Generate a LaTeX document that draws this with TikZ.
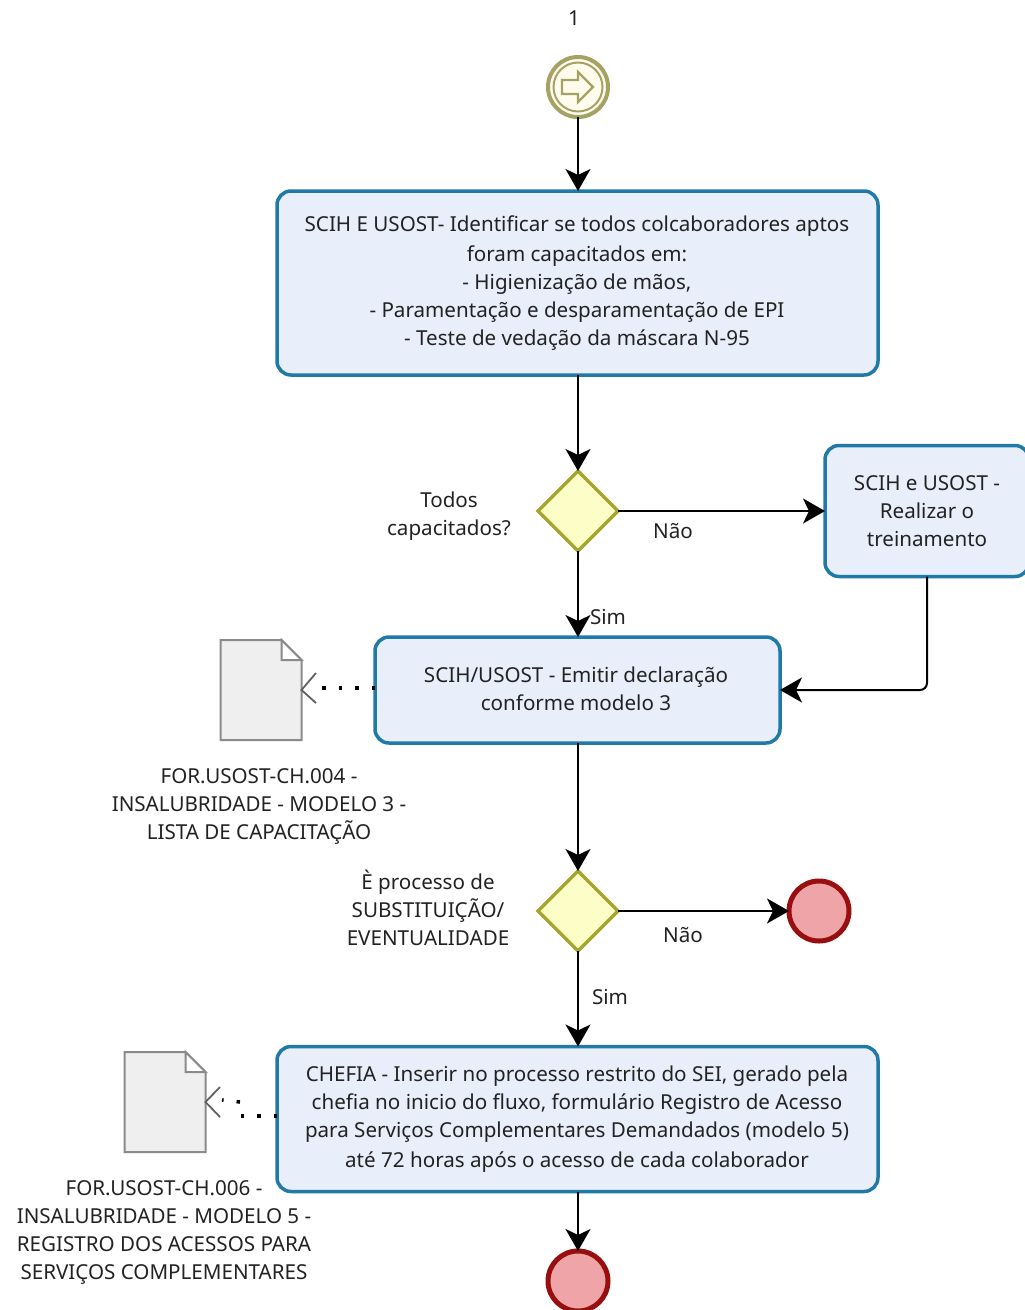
\documentclass[tikz,border=0pt]{standalone}
\usepackage{fontspec}
\setmainfont{Noto Sans}
\usetikzlibrary{arrows.meta,shapes.geometric,calc}
\definecolor{taskfill}{HTML}{E9EEFB}
\definecolor{taskline}{HTML}{1F7AA8}
\definecolor{gwfill}{HTML}{FDFDC8}
\definecolor{gwline}{HTML}{A5A52B}
\definecolor{endfill}{HTML}{EFA5A8}
\definecolor{endline}{HTML}{990F0F}
\definecolor{startline}{HTML}{A5A264}
\definecolor{startfill}{HTML}{FFFCEE}
\definecolor{docfill}{HTML}{EFEFEF}
\definecolor{docline}{HTML}{8A8A8A}
\definecolor{txt}{HTML}{222222}
\tikzset{
  x=1pt,y=-1pt,
  every node/.style={text=txt,font=\fontsize{20.6}{28}\selectfont,inner sep=0pt,outer sep=0pt},
  taskbox/.style={draw=taskline,fill=taskfill,line width=3.5pt,rounded corners=14pt,align=center,anchor=center},
  gateway/.style={diamond,aspect=1,draw=gwline,fill=gwfill,line width=3.5pt,minimum width=80pt,minimum height=80pt},
  endev/.style={circle,draw=endline,fill=endfill,line width=5pt,minimum size=60pt},
  lbl/.style={align=center,anchor=center},
  flow/.style={draw=black,line width=2pt,-{Stealth[length=22pt,width=25pt,inset=6pt]}},
  assoc/.style={draw=black,line width=3.5pt,dash pattern=on 3.5pt off 13pt},
  docshape/.style={draw=docline,fill=docfill,line width=2pt,line join=miter},
  openhead/.style={draw=docline!70!black,line width=1.8pt}
}
\begin{document}
\begin{tikzpicture}
\useasboundingbox (0,0) rectangle (1025,1310);

\node[lbl] (one) at (574,18) {1};

% start event
\node[circle,draw=startline,fill=startfill,line width=4pt,minimum size=60pt] (start) at (578,87) {};
\node[circle,draw=startline,line width=2pt,minimum size=49pt] (startinner) at (578,87) {};
\draw[draw=startline,line width=2.4pt,fill=startfill,line join=miter]
  (562,80)--(578,80)--(578,72)--(593,87)--(578,102)--(578,94)--(562,94)--cycle;

% tasks
\node[taskbox,minimum width=601pt,minimum height=184pt] (t1) at (577.5,283) {};
\node[lbl] (t1a) at (577,226) {SCIH E USOST- Identificar se todos colcaboradores aptos};
\node[lbl] (t1b) at (577,256) {foram capacitados em:};
\node[lbl] (t1c) at (577,284) {- Higienização de mãos,};
\node[lbl] (t1d) at (577,312) {- Paramentação e desparamentação de EPI};
\node[lbl] (t1e) at (577,340) {- Teste de vedação da máscara N-95};

\node[gateway] (g1) at (578,511) {};
\node[lbl] (g1l) at (449,516) {Todos\\capacitados?};

\node[taskbox,minimum width=204pt,minimum height=131pt] (t2) at (927,511) {};
\node[lbl] (t2l) at (927,511) {SCIH e USOST -\\Realizar o\\treinamento};

\node[taskbox,minimum width=405pt,minimum height=106pt] (t3) at (577.5,690) {};
\node[lbl] (t3l) at (576,689) {SCIH/USOST - Emitir declaração\\conforme modelo 3};

\node[gateway] (g2) at (578,911) {};
\node[lbl] (g2l) at (428,908) {È processo de\\SUBSTITUIÇÃO/\\EVENTUALIDADE};

\node[endev] (e1) at (819,911) {};

\node[taskbox,minimum width=601pt,minimum height=145pt] (t4) at (577.5,1119) {};
\node[lbl] (t4a) at (577,1076) {CHEFIA - Inserir no processo restrito do SEI, gerado pela};
\node[lbl] (t4b) at (577,1104) {chefia no inicio do fluxo, formulário Registro de Acesso};
\node[lbl] (t4c) at (577,1132) {para Serviços Complementares Demandados (modelo 5)};
\node[lbl] (t4d) at (577,1162) {até 72 horas após o acesso de cada colaborador};

\node[endev] (e2) at (578,1281) {};

% documents
\node[minimum width=81pt,minimum height=100pt] (d1) at (261,690) {};
\draw[docshape] (d1.north west) -- ++(61,0) -- ++(20,20) |- (d1.south west) -- cycle;
\draw[docshape,fill=white] ($(d1.north west)+(61,0)$) -- ++(0,20) -- ++(20,0) -- cycle;
\node[lbl] (d1l) at (259,806) {FOR.USOST-CH.004 -\\INSALUBRIDADE - MODELO 3 -\\LISTA DE CAPACITAÇÃO};

\node[minimum width=81pt,minimum height=100pt] (d2) at (165,1102) {};
\draw[docshape] (d2.north west) -- ++(61,0) -- ++(20,20) |- (d2.south west) -- cycle;
\draw[docshape,fill=white] ($(d2.north west)+(61,0)$) -- ++(0,20) -- ++(20,0) -- cycle;
\node[lbl] (d2l) at (164,1232) {FOR.USOST-CH.006 -\\INSALUBRIDADE - MODELO 5 -\\REGISTRO DOS ACESSOS PARA\\SERVIÇOS COMPLEMENTARES};

% flows
\coordinate (sx) at (578,0);
\draw[flow] (start) -- (start |- t1.north);
\draw[flow] (start |- t1.south) -- (g1);
\draw[flow] (g1) -- (t2);
\draw[flow] (g1) -- (g1 |- t3.north);
\coordinate (bend) at (927,690);
\draw[flow,rounded corners=7pt] (t2) -- (bend) -- (t3.east);
\draw[flow] (g1 |- t3.south) -- (g2);
\draw[flow] (g2) -- (e1);
\draw[flow] (g2) -- (g2 |- t4.north);
\draw[flow] (g2 |- t4.south) -- (e2);

\node[lbl] (nao1) at (673,531) {Não};
\node[lbl] (sim1) at (608,617) {Sim};
\node[lbl] (nao2) at (683,935) {Não};
\node[lbl] (sim2) at (610,997) {Sim};

% associations
\coordinate (a1end) at (322,688);
\draw[assoc] (t3.west |- a1end) -- (a1end);
\draw[openhead] (316,673) -- (d1.east) -- (316,703);

\coordinate (a2m1) at (241,1116);
\coordinate (a2m2) at (240,1102);
\coordinate (a2end) at (222,1100);
\draw[assoc] (t4.west |- a2m1) -- (a2m1);
\draw[assoc] (a2m2) -- (a2end);
\draw[openhead] (220,1087) -- (d2.east) -- (220,1117);
\end{tikzpicture}
\end{document}
